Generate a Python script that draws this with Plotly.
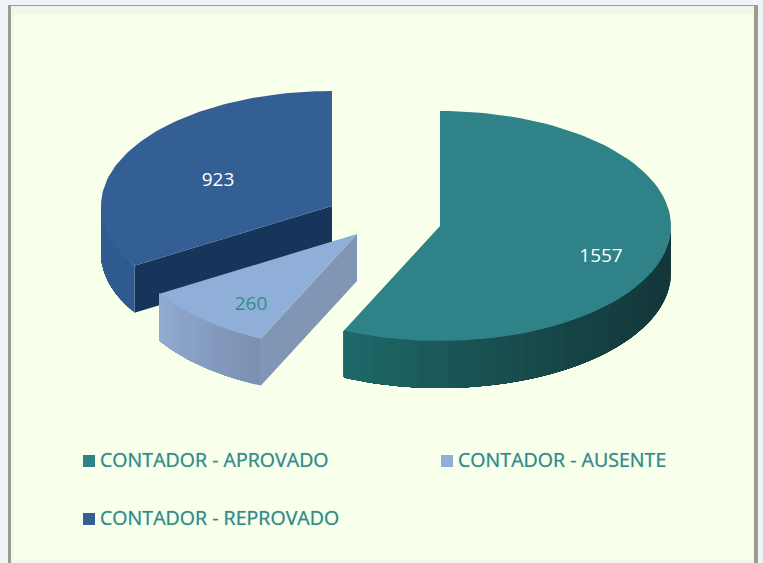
import math
import plotly.graph_objects as go

# ---- data ----
categories = ["CONTADOR - APROVADO", "CONTADOR - AUSENTE", "CONTADOR - REPROVADO"]
values = [1557, 260, 923]
slice_colors = ["#2F8288", "#8FAED8", "#335F94"]
label_colors = ["#FFFFFF", "#2F8F8C", "#FFFFFF"]
outer_wall_from = ["#1F6A6A", "#92ABD0", "#315D93"]
outer_wall_to = ["#133639", "#7A90B3", "#2F5A90"]
wall_curve = [1.8, 1.0, 1.0]
side_wall_colors = ["#1F6A6A", "#8195B5", "#17345A"]
# Drawing geometry in page pixels
apex = [(440, 226), (357, 234), (332, 206)]
label_pos = [(601, 257), (251, 305), (218, 181)]
legend_pos = [(89, 461), (447, 461), (89, 519)]
RX, RY, DEPTH = 231, 115, 47
TEXT = "#33898B"
BG = "#F8FFEA"


def hex_rgb(h):
    return [int(h[i:i + 2], 16) for i in (1, 3, 5)]


def mix(a, b, t):
    ca, cb = hex_rgb(a), hex_rgb(b)
    return "rgb(%d,%d,%d)" % tuple(round(x + (y - x) * t) for x, y in zip(ca, cb))


def pt(c, t, dz=0):
    return c[0] + RX * math.sin(t), c[1] - RY * math.cos(t) + dz


total = sum(values)
spans = []
acc = 0
for v in values:
    spans.append((acc / total * 2 * math.pi, (acc + v) / total * 2 * math.pi))
    acc += v

fig = go.Figure()


def poly(points, color, name=""):
    xs = [p[0] for p in points] + [points[0][0]]
    ys = [p[1] for p in points] + [points[0][1]]
    fig.add_trace(go.Scatter(x=xs, y=ys, mode="lines", fill="toself", fillcolor=color,
                             line=dict(color=color, width=0), hoverinfo="skip",
                             name=name, showlegend=False))


# draw back to front: reprovado, ausente, aprovado
for i in [2, 1, 0]:
    c = apex[i]
    a0, a1 = spans[i]
    n = 90
    w0, w1 = max(a0, math.pi / 2), min(a1, 3 * math.pi / 2)
    # flat side face at the start angle for the two slices where it faces the viewer
    if i in (1, 2):
        e = pt(c, a0)
        poly([c, e, (e[0], e[1] + DEPTH), (c[0], c[1] + DEPTH)], side_wall_colors[i])
    # outer wall: painter's layering, each band covers the rest of the arc, so no seams
    if w1 > w0:
        segs = 30
        for s in range(segs):
            t0 = w0 + (w1 - w0) * s / segs
            ts = [t0 + (w1 - t0) * k / 40 for k in range(41)]
            top = [pt(c, t) for t in ts]
            bot = [pt(c, t, DEPTH) for t in reversed(ts)]
            frac = ((s + 0.5) / segs) ** wall_curve[i]
            col = mix(outer_wall_to[i], outer_wall_from[i], frac)
            poly(top + bot, col)
    # top surface
    pts = [c] + [pt(c, a0 + (a1 - a0) * k / n) for k in range(n + 1)]
    poly(pts, slice_colors[i], name=categories[i])

# value labels
fig.add_trace(go.Scatter(
    x=[p[0] for p in label_pos], y=[p[1] for p in label_pos],
    mode="text", text=[str(v) for v in values],
    textfont=dict(family="Open Sans", size=19, color=label_colors),
    textposition="middle center", hoverinfo="skip", showlegend=False))

# legend keys + labels
fig.add_trace(go.Scatter(
    x=[p[0] for p in legend_pos], y=[p[1] for p in legend_pos],
    mode="markers", marker=dict(symbol="square", size=12, color=slice_colors, line=dict(width=0)),
    hoverinfo="skip", showlegend=False))
for name, p in zip(categories, legend_pos):
    fig.add_annotation(x=p[0] + 10, y=p[1] - 2, text=name, showarrow=False, xanchor="left",
                       yanchor="middle", borderpad=0,
                       font=dict(family="Open Sans", size=19.6, color=TEXT,
                                 shadow="0 0 1px rgba(51,137,139,0.6)"))

fig.update_layout(
    width=763, height=563, margin=dict(l=0, r=0, t=0, b=0),
    paper_bgcolor="#EEF3F8", plot_bgcolor="rgba(0,0,0,0)", showlegend=False,
    xaxis=dict(range=[0, 763], visible=False, fixedrange=True),
    yaxis=dict(range=[563, 0], visible=False, fixedrange=True),
    shapes=[
        dict(type="rect", layer="below", x0=8, y0=5, x1=758, y1=563, fillcolor="#9C9C8C", line_width=0),
        dict(type="rect", layer="below", x0=11, y0=6, x1=754, y1=563, fillcolor="#F4F6EE", line_width=0),
        dict(type="rect", layer="below", x0=14, y0=14, x1=753, y1=560, fillcolor=BG, line_width=0),
    ],
)
fig.write_html("out.html", config={"displayModeBar": False},
               post_script="document.body.style.margin='0';document.body.style.overflow='hidden';")
